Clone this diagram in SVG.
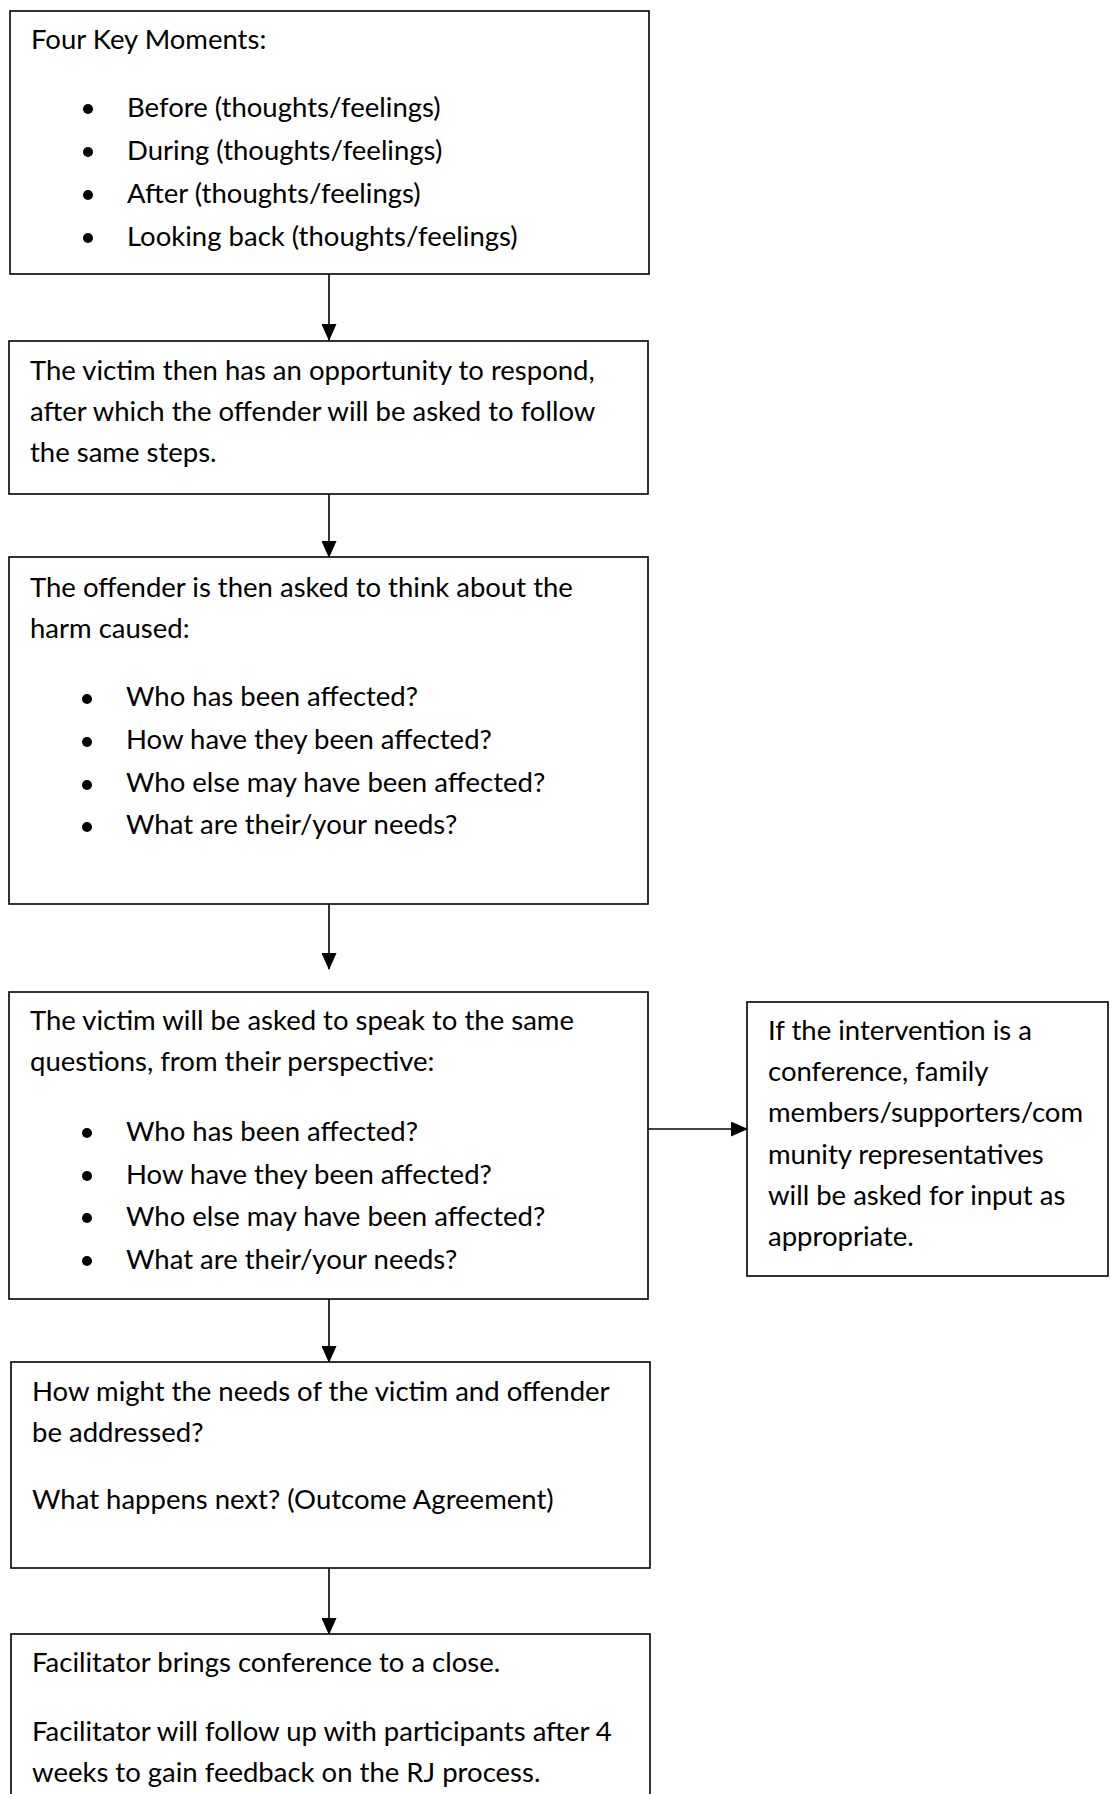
<svg xmlns="http://www.w3.org/2000/svg" width="1118" height="1794" viewBox="0 0 1118 1794">
<style>
.box{fill:#fff;stroke:#000;stroke-width:1.6}
.t{font-family:Lato,"Liberation Sans",sans-serif;font-size:27.5px;fill:#000}
.c{stroke:#000;stroke-width:1.6;fill:none}
</style>
<defs>
<marker id="ah" markerWidth="17" markerHeight="15" refX="16" refY="7.5" orient="auto" markerUnits="userSpaceOnUse">
<path d="M0,0 L17,7.5 L0,15 Z" fill="#000"/>
</marker>
</defs>
<rect width="1118" height="1794" fill="#fff"/>
<g id="connectors">
<line class="c" x1="329" y1="274" x2="329" y2="340" marker-end="url(#ah)"/>
<line class="c" x1="329" y1="494" x2="329" y2="557" marker-end="url(#ah)"/>
<line class="c" x1="329" y1="904" x2="329" y2="969" marker-end="url(#ah)"/>
<line class="c" x1="648" y1="1129" x2="747" y2="1129" marker-end="url(#ah)"/>
<line class="c" x1="329" y1="1297" x2="329" y2="1362" marker-end="url(#ah)"/>
<line class="c" x1="329" y1="1568" x2="329" y2="1634" marker-end="url(#ah)"/>
</g>
<g id="n1">
<rect class="box" x="10" y="11" width="639" height="263"/>
<text class="t" x="31" y="49">Four Key Moments:</text>
<circle cx="88" cy="109" r="5"/><text class="t" x="127" y="117">Before (thoughts/feelings)</text>
<circle cx="88" cy="152" r="5"/><text class="t" x="127" y="160">During (thoughts/feelings)</text>
<circle cx="88" cy="195" r="5"/><text class="t" x="127" y="203">After (thoughts/feelings)</text>
<circle cx="88" cy="238" r="5"/><text class="t" x="127" y="246">Looking back (thoughts/feelings)</text>
</g>
<g id="n2">
<rect class="box" x="9" y="341" width="639" height="153"/>
<text class="t" x="30" y="380">The victim then has an opportunity to respond,</text>
<text class="t" x="30" y="421">after which the offender will be asked to follow</text>
<text class="t" x="30" y="462">the same steps.</text>
</g>
<g id="n3">
<rect class="box" x="9" y="557" width="639" height="347"/>
<text class="t" x="30" y="597">The offender is then asked to think about the</text>
<text class="t" x="30" y="638">harm caused:</text>
<circle cx="87" cy="699" r="5"/><text class="t" x="126" y="706">Who has been affected?</text>
<circle cx="87" cy="742" r="5"/><text class="t" x="126" y="749">How have they been affected?</text>
<circle cx="87" cy="785" r="5"/><text class="t" x="126" y="792">Who else may have been affected?</text>
<circle cx="87" cy="827" r="5"/><text class="t" x="126" y="834">What are their/your needs?</text>
</g>
<g id="n4">
<rect class="box" x="9" y="992" width="639" height="307"/>
<text class="t" x="30" y="1030">The victim will be asked to speak to the same</text>
<text class="t" x="30" y="1071">questions, from their perspective:</text>
<circle cx="87" cy="1133" r="5"/><text class="t" x="126" y="1141">Who has been affected?</text>
<circle cx="87" cy="1176" r="5"/><text class="t" x="126" y="1184">How have they been affected?</text>
<circle cx="87" cy="1218" r="5"/><text class="t" x="126" y="1226">Who else may have been affected?</text>
<circle cx="87" cy="1261" r="5"/><text class="t" x="126" y="1269">What are their/your needs?</text>
</g>
<g id="n5">
<rect class="box" x="747" y="1002" width="361" height="274"/>
<text class="t" x="768" y="1040">If the intervention is a</text>
<text class="t" x="768" y="1081">conference, family</text>
<text class="t" x="768" y="1122">members/supporters/com</text>
<text class="t" x="768" y="1164">munity representatives</text>
<text class="t" x="768" y="1205">will be asked for input as</text>
<text class="t" x="768" y="1246">appropriate.</text>
</g>
<g id="n6">
<rect class="box" x="11" y="1362" width="639" height="206"/>
<text class="t" x="32" y="1401">How might the needs of the victim and offender</text>
<text class="t" x="32" y="1442">be addressed?</text>
<text class="t" x="32" y="1509">What happens next? (Outcome Agreement)</text>
</g>
<g id="n7">
<rect class="box" x="11" y="1634" width="639" height="200"/>
<text class="t" x="32" y="1672">Facilitator brings conference to a close.</text>
<text class="t" x="32" y="1741">Facilitator will follow up with participants after 4</text>
<text class="t" x="32" y="1782">weeks to gain feedback on the RJ process.</text>
</g>
</svg>
